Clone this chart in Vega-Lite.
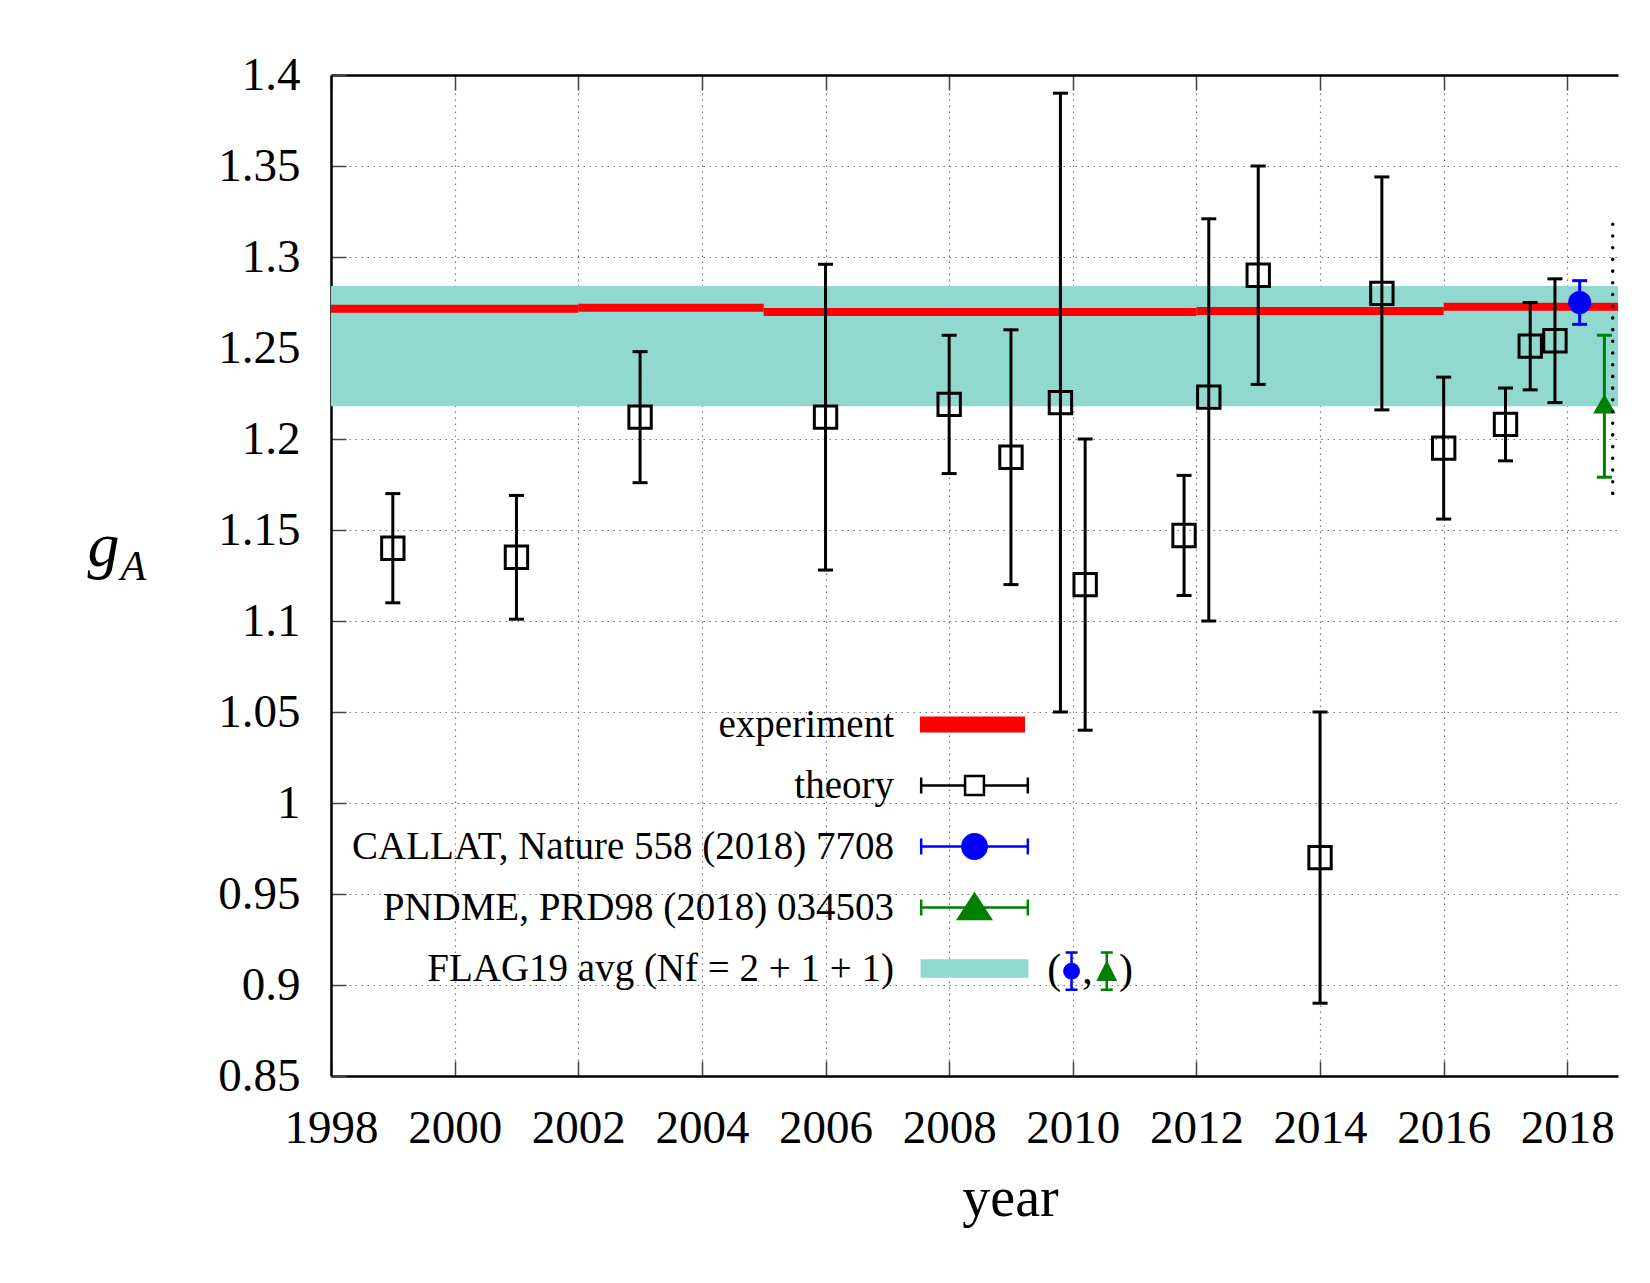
{
  "$schema": "https://vega.github.io/schema/vega-lite/v6.json",
  "width": 1287,
  "height": 1001,
  "autosize": {"type": "none"},
  "padding": {"left": 331, "top": 75, "right": 32, "bottom": 207},
  "background": "white",
  "view": {"stroke": null},
  "datasets": {
    "band": [{"series": "FLAG19 avg (Nf = 2 + 1 + 1)", "lo": 1.218, "hi": 1.284}],
    "experiment": [
      {"series": "experiment", "start": 1998, "end": 2002, "val": 1.2715},
      {"series": "experiment", "start": 2002, "end": 2005, "val": 1.2721},
      {"series": "experiment", "start": 2005, "end": 2012, "val": 1.2698},
      {"series": "experiment", "start": 2012, "end": 2016, "val": 1.2703},
      {"series": "experiment", "start": 2016, "end": 2018.82, "val": 1.2726}
    ],
    "points": [
      {"series": "theory", "year": 1999, "val": 1.140, "lo": 1.110, "hi": 1.170},
      {"series": "theory", "year": 2001, "val": 1.135, "lo": 1.101, "hi": 1.169},
      {"series": "theory", "year": 2003, "val": 1.212, "lo": 1.176, "hi": 1.248},
      {"series": "theory", "year": 2006, "val": 1.212, "lo": 1.128, "hi": 1.296},
      {"series": "theory", "year": 2008, "val": 1.219, "lo": 1.181, "hi": 1.257},
      {"series": "theory", "year": 2009, "val": 1.190, "lo": 1.120, "hi": 1.260},
      {"series": "theory", "year": 2009.8, "val": 1.220, "lo": 1.050, "hi": 1.390},
      {"series": "theory", "year": 2010.2, "val": 1.120, "lo": 1.040, "hi": 1.200},
      {"series": "theory", "year": 2011.8, "val": 1.147, "lo": 1.114, "hi": 1.180},
      {"series": "theory", "year": 2012.2, "val": 1.223, "lo": 1.100, "hi": 1.321},
      {"series": "theory", "year": 2013, "val": 1.290, "lo": 1.230, "hi": 1.350},
      {"series": "theory", "year": 2014, "val": 0.970, "lo": 0.890, "hi": 1.050},
      {"series": "theory", "year": 2015, "val": 1.280, "lo": 1.216, "hi": 1.344},
      {"series": "theory", "year": 2016, "val": 1.195, "lo": 1.156, "hi": 1.234},
      {"series": "theory", "year": 2017, "val": 1.208, "lo": 1.188, "hi": 1.228},
      {"series": "theory", "year": 2017.4, "val": 1.251, "lo": 1.227, "hi": 1.275},
      {"series": "theory", "year": 2017.8, "val": 1.254, "lo": 1.220, "hi": 1.288},
      {"series": "CALLAT, Nature 558 (2018) 7708", "year": 2018.2, "val": 1.275, "lo": 1.263, "hi": 1.287},
      {"series": "PNDME, PRD98 (2018) 034503", "year": 2018.6, "val": 1.219, "lo": 1.179, "hi": 1.257}
    ]
  },
  "layer": [
    {
      "data": {"name": "band"},
      "mark": {"type": "rect", "color": "#91d8d0"},
      "encoding": {
        "y": {
          "field": "lo",
          "type": "quantitative",
          "scale": {"domain": [0.85, 1.4], "nice": false, "zero": false},
          "axis": {
            "orient": "left",
            "values": [0.85, 0.9, 0.95, 1, 1.05, 1.1, 1.15, 1.2, 1.25, 1.3, 1.35, 1.4],
            "format": "~g",
            "grid": true,
            "labelPadding": 46,
            "labelAlign": "right",
            "labelBaseline": "middle",
            "title": "g",
            "titleAngle": 0,
            "titleX": -244,
            "titleY": 490,
            "titleAlign": "left",
            "titleBaseline": "alphabetic",
            "titleFont": "Liberation Serif",
            "titleFontStyle": "italic",
            "titleFontWeight": "normal",
            "titleFontSize": 64,
            "titleColor": "black"
          }
        },
        "y2": {"field": "hi"}
      }
    },
    {
      "data": {"name": "experiment"},
      "mark": {"type": "rule", "color": "#ff0000", "strokeWidth": 8},
      "encoding": {
        "x": {
          "field": "start",
          "type": "quantitative",
          "scale": {"domain": [1998, 2018.82], "nice": false, "zero": false},
          "axis": {
            "orient": "top",
            "values": [1998, 2000, 2002, 2004, 2006, 2008, 2010, 2012, 2014, 2016, 2018],
            "labels": false,
            "grid": false,
            "title": "A",
            "titleAngle": 0,
            "titleX": -211,
            "titleY": 504,
            "titleAlign": "left",
            "titleBaseline": "alphabetic",
            "titleFont": "Liberation Serif",
            "titleFontStyle": "italic",
            "titleFontWeight": "normal",
            "titleFontSize": 42,
            "titleColor": "black"
          }
        },
        "x2": {"field": "end"},
        "y": {"field": "val", "type": "quantitative"}
      }
    },
    {
      "data": {"name": "points"},
      "mark": {"type": "rule", "strokeWidth": 3},
      "encoding": {
        "x": {
          "field": "year",
          "type": "quantitative",
          "axis": {
            "orient": "bottom",
            "values": [1998, 2000, 2002, 2004, 2006, 2008, 2010, 2012, 2014, 2016, 2018],
            "format": "d",
            "grid": true,
            "labelPadding": 44,
            "labelBaseline": "top",
            "title": "year",
            "titleX": 679,
            "titleY": 139,
            "titleAlign": "center",
            "titleAnchor": "start",
            "titleBaseline": "alphabetic",
            "titleFont": "Liberation Serif",
            "titleFontWeight": "normal",
            "titleFontSize": 56,
            "titleColor": "black"
          }
        },
        "y": {"field": "lo", "type": "quantitative"},
        "y2": {"field": "hi"},
        "color": {
          "field": "series",
          "type": "nominal",
          "scale": {
            "domain": ["theory", "CALLAT, Nature 558 (2018) 7708", "PNDME, PRD98 (2018) 034503"],
            "range": ["#000000", "#0000ff", "#008000"]
          },
          "legend": null
        }
      }
    },
    {
      "data": {"name": "points"},
      "mark": {"type": "tick", "orient": "horizontal", "size": 15, "thickness": 3, "opacity": 1},
      "encoding": {
        "x": {"field": "year", "type": "quantitative", "axis": null},
        "y": {"field": "lo", "type": "quantitative"},
        "color": {"field": "series", "type": "nominal", "legend": null}
      }
    },
    {
      "data": {"name": "points"},
      "mark": {"type": "tick", "orient": "horizontal", "size": 15, "thickness": 3, "opacity": 1},
      "encoding": {
        "x": {"field": "year", "type": "quantitative", "axis": null},
        "y": {"field": "hi", "type": "quantitative"},
        "color": {"field": "series", "type": "nominal", "legend": null}
      }
    },
    {
      "data": {"name": "points"},
      "mark": {"type": "point", "filled": true, "opacity": 1, "strokeWidth": 3},
      "encoding": {
        "x": {"field": "year", "type": "quantitative", "axis": null},
        "y": {"field": "val", "type": "quantitative"},
        "fill": {
          "field": "series",
          "type": "nominal",
          "scale": {
            "domain": ["experiment", "theory", "CALLAT, Nature 558 (2018) 7708", "PNDME, PRD98 (2018) 034503", "FLAG19 avg (Nf = 2 + 1 + 1)"],
            "range": ["#ff0000", "transparent", "#0000ff", "#008000", "#91d8d0"]
          },
          "legend": {
            "orient": "none",
            "legendX": 624,
            "legendY": 630,
            "title": null,
            "direction": "vertical",
            "padding": 0,
            "labelFont": "Liberation Serif",
            "labelFontSize": 39,
            "labelColor": "black",
            "labelAlign": "right",
            "labelBaseline": "middle",
            "labelOffset": -100,
            "labelLimit": 2000,
            "symbolSize": 729,
            "symbolStrokeWidth": 2.5,
            "symbolOpacity": 1,
            "rowPadding": 21,
            "encoding": {
              "symbols": {
                "shape": {"value": {"expr": "datum.value === 'experiment' ? 'M-3.95,-0.5H3.65V0.5H-3.95Z' : datum.value === 'theory' ? 'M-3.95,-0.6V0.6M-3.95,0H-0.7M0.7,0H3.95M3.95,-0.6V0.6M-0.7,-0.7H0.7V0.7H-0.7Z' : datum.value === 'CALLAT, Nature 558 (2018) 7708' ? 'M-3.95,-0.6V0.6M-3.95,0H3.95M3.95,-0.6V0.6M-0.9,0A0.9,0.9 0 1,0 0.9,0A0.9,0.9 0 1,0 -0.9,0Z' : datum.value === 'PNDME, PRD98 (2018) 034503' ? 'M-3.95,-0.6V0.6M-3.95,0H3.95M3.95,-0.6V0.6M-1.2,0.85L0,-1L1.2,0.85Z' : 'M-3.9,-0.6H3.9V0.6H-3.9Z'"}},
                "size": {"value": 729}
              }
            }
          }
        },
        "stroke": {
          "field": "series",
          "type": "nominal",
          "scale": {
            "domain": ["experiment", "theory", "CALLAT, Nature 558 (2018) 7708", "PNDME, PRD98 (2018) 034503", "FLAG19 avg (Nf = 2 + 1 + 1)"],
            "range": ["#ff0000", "#000000", "#0000ff", "#008000", "#91d8d0"]
          },
          "legend": {
            "orient": "none",
            "legendX": 624,
            "legendY": 630,
            "title": null,
            "direction": "vertical",
            "padding": 0,
            "labelFont": "Liberation Serif",
            "labelFontSize": 39,
            "labelColor": "black",
            "labelAlign": "right",
            "labelBaseline": "middle",
            "labelOffset": -100,
            "labelLimit": 2000,
            "symbolSize": 729,
            "symbolStrokeWidth": 2.5,
            "symbolOpacity": 1,
            "rowPadding": 21,
            "encoding": {
              "symbols": {
                "shape": {"value": {"expr": "datum.value === 'experiment' ? 'M-3.95,-0.5H3.65V0.5H-3.95Z' : datum.value === 'theory' ? 'M-3.95,-0.6V0.6M-3.95,0H-0.7M0.7,0H3.95M3.95,-0.6V0.6M-0.7,-0.7H0.7V0.7H-0.7Z' : datum.value === 'CALLAT, Nature 558 (2018) 7708' ? 'M-3.95,-0.6V0.6M-3.95,0H3.95M3.95,-0.6V0.6M-0.9,0A0.9,0.9 0 1,0 0.9,0A0.9,0.9 0 1,0 -0.9,0Z' : datum.value === 'PNDME, PRD98 (2018) 034503' ? 'M-3.95,-0.6V0.6M-3.95,0H3.95M3.95,-0.6V0.6M-1.2,0.85L0,-1L1.2,0.85Z' : 'M-3.9,-0.6H3.9V0.6H-3.9Z'"}},
                "size": {"value": 729}
              }
            }
          }
        },
        "shape": {
          "field": "series",
          "type": "nominal",
          "scale": {
            "domain": ["theory", "CALLAT, Nature 558 (2018) 7708", "PNDME, PRD98 (2018) 034503"],
            "range": ["square", "circle", "triangle-up"]
          },
          "legend": null
        },
        "size": {
          "field": "series",
          "type": "nominal",
          "scale": {
            "domain": ["theory", "CALLAT, Nature 558 (2018) 7708", "PNDME, PRD98 (2018) 034503"],
            "range": [500, 299, 324]
          },
          "legend": null
        }
      }
    },
    {
      "data": {"values": [{}]},
      "mark": {"type": "rule", "color": "black", "strokeWidth": 3.5, "strokeDash": [0.1, 11.6], "strokeCap": "round"},
      "encoding": {
        "x": {"datum": 2018.735, "type": "quantitative", "axis": null},
        "y": {"datum": 1.318, "type": "quantitative"},
        "y2": {"datum": 1.17}
      }
    },
    {
      "data": {"values": [{}]},
      "mark": {"type": "point", "filled": true, "opacity": 1, "color": "#0000ff", "stroke": "#0000ff", "strokeWidth": 2.5, "size": 576,
        "shape": "M-0.5,-1.55H0.5M0,-1.55V1.55M-0.5,1.55H0.5M-0.6,0A0.6,0.6 0 1,0 0.6,0A0.6,0.6 0 1,0 -0.6,0Z"},
      "encoding": {
        "x": {"datum": 2009.98, "type": "quantitative", "axis": null},
        "y": {"datum": 0.9076, "type": "quantitative"}
      }
    },
    {
      "data": {"values": [{}]},
      "mark": {"type": "point", "filled": true, "opacity": 1, "color": "#008000", "stroke": "#008000", "strokeWidth": 2.5, "size": 576,
        "shape": "M-0.5,-1.55H0.5M0,-1.55V1.55M-0.5,1.55H0.5M-0.7,0.72L0,-0.7L0.7,0.72Z"},
      "encoding": {
        "x": {"datum": 2010.55, "type": "quantitative", "axis": null},
        "y": {"datum": 0.9076, "type": "quantitative"}
      }
    },
    {
      "data": {"values": [{}]},
      "mark": {"type": "text", "text": "(", "font": "Liberation Serif", "fontSize": 42, "color": "black", "align": "center", "baseline": "middle"},
      "encoding": {
        "x": {"datum": 2009.7, "type": "quantitative", "axis": null},
        "y": {"datum": 0.908, "type": "quantitative"}
      }
    },
    {
      "data": {"values": [{}]},
      "mark": {"type": "text", "text": ",", "font": "Liberation Serif", "fontSize": 42, "color": "black", "align": "center", "baseline": "middle"},
      "encoding": {
        "x": {"datum": 2010.24, "type": "quantitative", "axis": null},
        "y": {"datum": 0.908, "type": "quantitative"}
      }
    },
    {
      "data": {"values": [{}]},
      "mark": {"type": "text", "text": ")", "font": "Liberation Serif", "fontSize": 42, "color": "black", "align": "center", "baseline": "middle"},
      "encoding": {
        "x": {"datum": 2010.86, "type": "quantitative", "axis": null},
        "y": {"datum": 0.908, "type": "quantitative"}
      }
    }
  ],
  "resolve": {"axis": {"x": "independent"}},
  "config": {
    "axis": {
      "labelFont": "Liberation Serif",
      "labelFontSize": 47,
      "labelColor": "black",
      "labelFlush": false,
      "labelOverlap": false,
      "tickSize": -15,
      "tickColor": "#444444",
      "tickWidth": 1.5,
      "domainColor": "black",
      "domainWidth": 2.5,
      "gridColor": "#777777",
      "gridDash": [1.5, 4.5],
      "gridWidth": 1.2,
      "zindex": 1
    }
  }
}
